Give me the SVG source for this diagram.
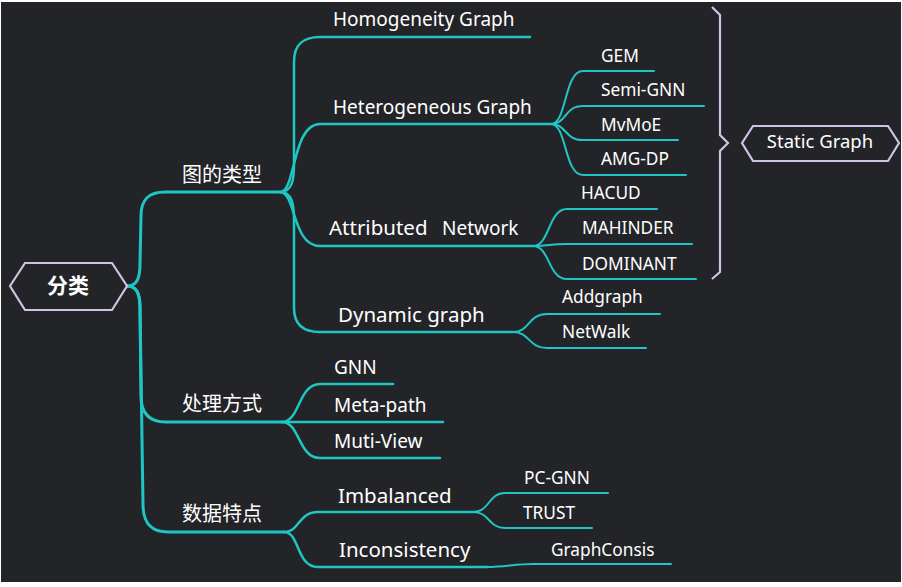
<svg xmlns="http://www.w3.org/2000/svg" width="902" height="587" viewBox="0 0 902 587">
<style>
.bg{fill:#232428}
.hex{fill:#232428;stroke:#cfc3e3;stroke-width:2.2;stroke-linejoin:miter}
.brace{fill:none;stroke:#cfc3e3;stroke-width:2.2}
.c1{fill:none;stroke:#1fc6c4;stroke-width:3;stroke-linecap:round}
.c2{fill:none;stroke:#1fc6c4;stroke-width:2.5;stroke-linecap:round}
.c3{fill:none;stroke:#1fc6c4;stroke-width:2;stroke-linecap:round}
text{fill:#ffffff;font-family:"Noto Sans","Open Sans","Noto Sans CJK SC",sans-serif}
.cn{font-family:"Noto Sans CJK SC","Noto Sans",sans-serif;font-size:20px;text-anchor:middle}
.root{font-family:"Noto Sans CJK SC","Noto Sans",sans-serif;font-size:21px;font-weight:bold;text-anchor:middle}
.l2{font-size:19px}
.l2b{font-size:20.5px}
.l3{font-size:17.3px}
.st{font-size:18.5px;text-anchor:middle}
</style>
<rect x="0" y="0" width="902" height="587" fill="#ffffff"/>
<rect class="bg" x="1" y="2" width="900" height="580"/>
<g id="connectors">
<path class="c1" d="M127,286 C137,286 140,278 140,264 L141,216 C141,200 148,192 165,192 L280,192"/>
<path class="c1" d="M127,286 C137,286 140,294 140,308 L141,396 C141,412 148,422 166,422 L282,422"/>
<path class="c1" d="M127,286 C137,286 140,294 140,308 L143,504 C143,522 150,532 168,532 L284,532"/>
<path class="c2" d="M280,192 C292,192 294,180 294,165 L294,62 C294,45 302,37 320,37 L530,37"/>
<path class="c2" d="M280,192 C296,192 292,124 320,124 L551,124"/>
<path class="c2" d="M280,192 C296,192 292,246 320,246 L533,246"/>
<path class="c2" d="M280,192 C292,192 294,204 294,220 L294,308 C294,324 302,332 320,332 L513,332"/>
<path class="c3" d="M551,124 C567,124 564,71 583,71 L654,71"/>
<path class="c3" d="M551,124 C567,124 564,106 583,106 L704,106"/>
<path class="c3" d="M551,124 C567,124 564,140 583,140 L678,140"/>
<path class="c3" d="M551,124 C567,124 564,175 583,175 L686,175"/>
<path class="c3" d="M533,246 C550,246 548,209 567,209 L657,209"/>
<path class="c3" d="M533,246 C550,246 548,244 567,244 L692,244"/>
<path class="c3" d="M533,246 C550,246 548,279 567,279 L696,279"/>
<path class="c3" d="M513,332 C530,332 528,314 547,314 L660,314"/>
<path class="c3" d="M513,332 C530,332 528,348 547,348 L646,348"/>
<path class="c2" d="M282,422 C300,422 298,384 320,384 L393,384"/>
<path class="c2" d="M282,422 L443,422"/>
<path class="c2" d="M282,422 C300,422 298,458 320,458 L440,458"/>
<path class="c2" d="M284,532 C300,532 298,512 318,512 L473,512"/>
<path class="c2" d="M284,532 C300,532 296,567 318,567 L487,567"/>
<path class="c3" d="M473,512 C490,512 488,493 505,493 L608,493"/>
<path class="c3" d="M473,512 C490,512 488,528 505,528 L592,528"/>
<path class="c3" d="M487,567 C505,567 515,564 533,564 L671,564"/>
<polyline class="brace" points="712,7 720,15 720,135 728,143 720,151 720,272 712,279"/>
</g>
<g id="root"><polygon class="hex" points="10,286 25,263 112,263 127,286 112,310 25,310"/><text class="root" x="68" y="293">分类</text></g>
<g id="n-types"><text class="cn" x="222" y="182">图的类型</text></g>
<g id="n-proc"><text class="cn" x="222" y="411">处理方式</text></g>
<g id="n-data"><text class="cn" x="222" y="521">数据特点</text></g>
<g id="n-homo"><text class="l2" x="333" y="26">Homogeneity Graph</text></g>
<g id="n-hetero"><text class="l2" x="333" y="114">Heterogeneous Graph</text></g>
<g id="n-attr"><text x="329" y="235"><tspan class="l2b">Attributed</tspan><tspan class="l2" x="442" font-size="18px">Network</tspan></text></g>
<g id="n-dyn"><text class="l2b" x="338" y="322">Dynamic graph</text></g>
<g id="n-gem"><text class="l3" x="601" y="62">GEM</text></g>
<g id="n-semi"><text class="l3" x="601" y="96">Semi-GNN</text></g>
<g id="n-mvmoe"><text class="l3" x="601" y="131">MvMoE</text></g>
<g id="n-amg"><text class="l3" x="601" y="165">AMG-DP</text></g>
<g id="n-hacud"><text class="l3" x="581" y="199">HACUD</text></g>
<g id="n-mah"><text class="l3" x="582" y="234">MAHINDER</text></g>
<g id="n-dom"><text class="l3" x="582" y="270">DOMINANT</text></g>
<g id="n-add"><text class="l3" x="562" y="303">Addgraph</text></g>
<g id="n-netwalk"><text class="l3" x="562" y="338">NetWalk</text></g>
<g id="n-gnn"><text class="l2" x="334" y="374">GNN</text></g>
<g id="n-meta"><text class="l2" x="334" y="412">Meta-path</text></g>
<g id="n-muti"><text class="l2" x="334" y="448">Muti-View</text></g>
<g id="n-imb"><text class="l2b" x="338" y="503">Imbalanced</text></g>
<g id="n-incon"><text class="l2b" x="339" y="557">Inconsistency</text></g>
<g id="n-pcgnn"><text class="l3" x="524" y="484">PC-GNN</text></g>
<g id="n-trust"><text class="l3" x="523" y="519">TRUST</text></g>
<g id="n-gc"><text class="l3" x="551" y="556">GraphConsis</text></g>
<g id="n-static"><polygon class="hex" points="742,143 753,126 888,126 899,143 888,161 753,161"/><text class="st" x="820" y="148">Static Graph</text></g>
</svg>
